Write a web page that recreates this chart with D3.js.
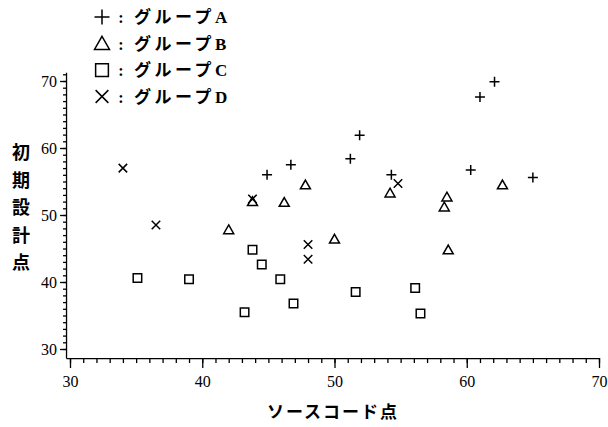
<!DOCTYPE html>
<html><head><meta charset="utf-8">
<script src="https://cdn.jsdelivr.net/npm/d3@7"></script>
<style>
html,body{margin:0;padding:0;background:#fff;}
svg{display:block;}
</style></head>
<body>
<svg id="chart" width="608" height="427"></svg>
<script>
// ---- data ----
const groupNames = ["グループA", "グループB", "グループC", "グループD"];
const symbolTypes = ["plus", "triangle", "square", "cross"];

const groupA_x = [44.9, 46.7, 51.2, 51.9, 54.3, 60.3, 61.0, 62.1, 65.0];
const groupA_y = [56.0, 57.5, 58.4, 61.9, 56.0, 56.7, 67.6, 69.9, 55.6];

const groupB_x = [42.0, 43.8, 46.2, 47.8, 50.0, 54.2, 58.5, 58.3, 58.6, 62.7];
const groupB_y = [47.8, 52.0, 51.9, 54.5, 46.4, 53.3, 52.7, 51.2, 44.8, 54.5];

const groupC_x = [35.1, 39.0, 43.2, 43.8, 44.5, 45.9, 46.9, 51.6, 56.1, 56.5];
const groupC_y = [40.6, 40.4, 35.5, 44.8, 42.6, 40.4, 36.8, 38.5, 39.1, 35.3];

const groupD_x = [34.0, 36.5, 43.8, 48.0, 48.0, 54.8];
const groupD_y = [57.0, 48.5, 52.4, 45.6, 43.4, 54.7];

const xTicks = [30, 40, 50, 60, 70];
const yTicks = [30, 40, 50, 60, 70];
const xTitle = "ソースコード点";
const yTitle = "初期設計点";

// ---- build ----
const seriesX = [groupA_x, groupB_x, groupC_x, groupD_x];
const seriesY = [groupA_y, groupB_y, groupC_y, groupD_y];
const series = groupNames.map((name, i) => ({
  name, type: symbolTypes[i],
  points: seriesX[i].map((xv, j) => ({x: xv, y: seriesY[i][j]}))
}));

const svg = d3.select("#chart");
const x = d3.scaleLinear().domain([30, 70]).range([70, 599]);
const y = d3.scaleLinear().domain([30, 70]).range([349, 81]);

// marker shapes
function shapePath(type, s) {
  const p = d3.path();
  if (type === "plus") {
    p.moveTo(-s, 0); p.lineTo(s, 0); p.moveTo(0, -s); p.lineTo(0, s);
  } else if (type === "cross") {
    const c = s * 0.85;
    p.moveTo(-c, -c); p.lineTo(c, c); p.moveTo(-c, c); p.lineTo(c, -c);
  } else if (type === "triangle") {
    p.moveTo(0, -s * 0.95); p.lineTo(s, s * 0.8); p.lineTo(-s, s * 0.8); p.closePath();
  } else if (type === "square") {
    const c = s * 0.85;
    p.rect(-c, -c, 2 * c, 2 * c);
  }
  return p.toString();
}

const fontSerif = "'Liberation Serif','DejaVu Serif',serif";
const fontJP = "'Liberation Serif','Noto Sans CJK JP',sans-serif";

// axes
const xAxisLine = x.copy().domain([29.7, 70]).range([x(29.7), x(70)]);
const yAxisLine = y.copy().domain([28.65, 71.3]).range([y(28.65), y(71.3)]);
const xBase = y(28.65);
const yBase = x(29.7);

// x axis
const gx = svg.append("g").attr("transform", `translate(0,${xBase})`);
gx.append("g").call(d3.axisBottom(xAxisLine).tickValues(d3.range(30, 71, 1)).tickSize(5).tickFormat("").tickSizeOuter(0));
gx.append("g").call(d3.axisBottom(x).tickValues(xTicks).tickSize(10).tickFormat(d3.format("d")).tickPadding(8))
  .call(g => g.select(".domain").remove());
gx.selectAll("line,path").attr("stroke", "#000").attr("stroke-width", 1.3);
gx.selectAll("text").attr("font-family", fontSerif).attr("font-size", 16).attr("fill", "#000");

// y axis
const gy = svg.append("g").attr("transform", `translate(${yBase},0)`);
gy.append("g").call(d3.axisLeft(yAxisLine).tickValues(d3.range(30, 72, 1)).tickSize(3).tickFormat("").tickSizeOuter(0));
gy.append("g").call(d3.axisLeft(y).tickValues(yTicks).tickSize(6).tickFormat(d3.format("d")).tickPadding(3))
  .call(g => g.select(".domain").remove());
gy.selectAll("line,path").attr("stroke", "#000").attr("stroke-width", 1.3);
gy.selectAll("text").attr("font-family", fontSerif).attr("font-size", 16).attr("fill", "#000");

// axis titles
svg.append("text").attr("x", 333).attr("y", 418).attr("text-anchor", "middle")
  .attr("font-family", fontJP).attr("font-weight", "bold").attr("font-size", 17)
  .attr("letter-spacing", 2).attr("fill", "#000").text(xTitle);

const yt = svg.append("text").attr("font-family", fontJP).attr("font-weight", "bold")
  .attr("font-size", 18).attr("fill", "#000").attr("text-anchor", "middle");
Array.from(yTitle).forEach((ch, i) => {
  yt.append("tspan").attr("x", 21).attr("y", 159 + i * 27.5).text(ch);
});

// points
series.forEach(s => {
  svg.append("g").selectAll("path").data(s.points).join("path")
    .attr("transform", d => `translate(${x(d.x)},${y(d.y)})`)
    .attr("d", shapePath(s.type, 5))
    .attr("fill", "none").attr("stroke", "#000").attr("stroke-width", 1.5);
});

// legend
const legend = svg.append("g");
series.forEach((s, i) => {
  const ly = 17 + i * 26.5;
  legend.append("path").attr("transform", `translate(102,${ly})`)
    .attr("d", shapePath(s.type, 7.5)).attr("fill", "none").attr("stroke", "#000").attr("stroke-width", 1.5);
  legend.append("text").attr("x", 121).attr("y", ly + 6).attr("text-anchor", "middle")
    .attr("font-family", fontJP).attr("font-weight", "bold").attr("font-size", 16).text(":");
  legend.append("text").attr("x", 134).attr("y", ly + 6)
    .attr("font-family", fontJP).attr("font-weight", "bold").attr("font-size", 17)
    .attr("letter-spacing", 3.5).attr("fill", "#000").text(s.name);
});
</script>
</body></html>
